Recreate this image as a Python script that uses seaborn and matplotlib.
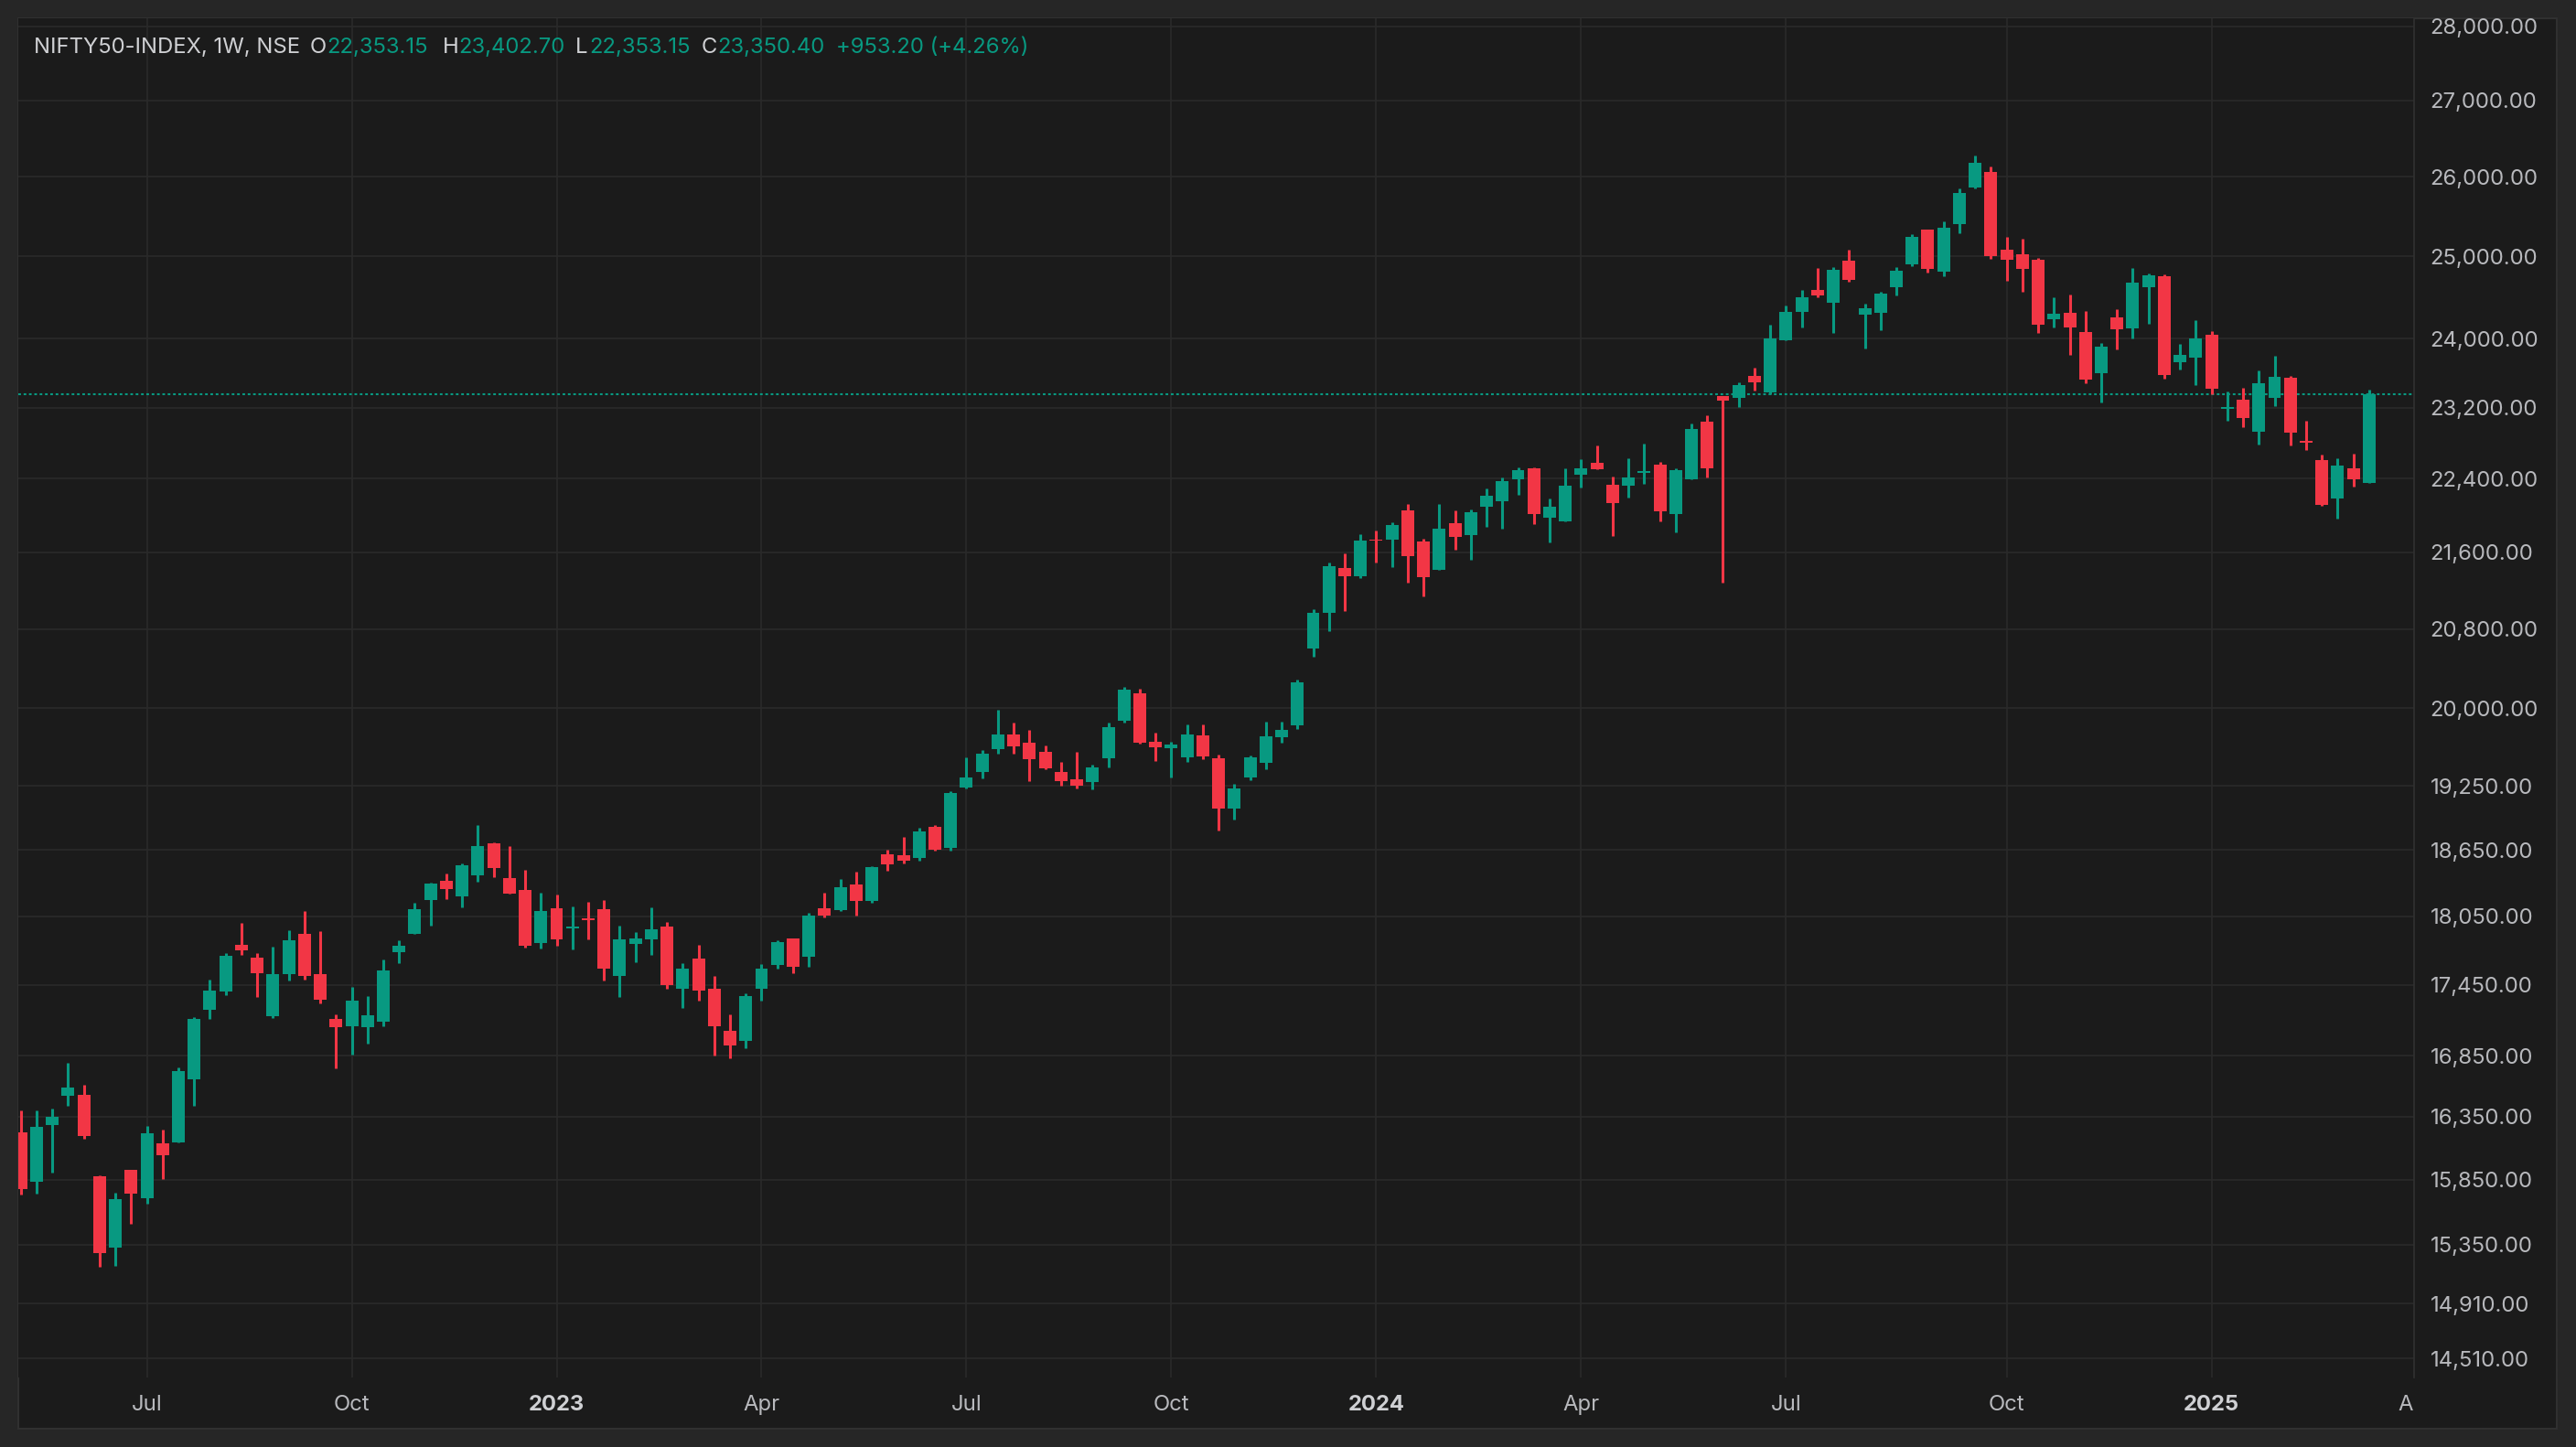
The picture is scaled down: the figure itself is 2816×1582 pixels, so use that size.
import numpy as np
import pandas as pd
import matplotlib
matplotlib.use("Agg")
import matplotlib.pyplot as plt
import seaborn as sns
from matplotlib.ticker import FixedLocator, FuncFormatter, NullLocator
from matplotlib.transforms import Bbox, TransformedBbox, blended_transform_factory

# weekly NIFTY 50 candles, week of 2022-05-09 to week of 2025-03-17
opens = [16224, 15836, 16285, 16522, 16527, 15876, 15329, 15926, 15708, 16136,
         16146, 16657, 17238, 17394, 17796, 17684, 17183, 17544, 17893, 17541,
         17158, 17096, 17091, 17134, 17733, 17897, 18198, 18372, 18231, 18421,
         18715, 18396, 18289, 17816, 18124, 17945, 18035, 18116, 17529, 17808,
         17848, 17962, 17419, 17680, 17417, 17060, 16970, 17417, 17623, 17855,
         17695, 18123, 18107, 18337, 18189, 18612, 18604, 18579, 18866, 18671,
         19236, 19384, 19604, 19746, 19666, 19577, 19384, 19314, 19288, 19516,
         19880, 20151, 19675, 19613, 19524, 19737, 19516, 19037, 19331, 19472,
         19719, 19835, 20596, 20962, 21437, 21350, 21739, 21739, 22055, 21720,
         21418, 21917, 21789, 22095, 22155, 22397, 22518, 21976, 21937, 22447,
         22579, 22336, 22323, 22465, 22556, 22017, 22398, 23040, 23333, 23312,
         23566, 23375, 23984, 24322, 24587, 24432, 24945, 24289, 24311, 24620,
         24900, 25325, 24805, 25394, 25857, 26056, 25075, 25019, 24951, 24230,
         24306, 24077, 23593, 24252, 24121, 24616, 24749, 23721, 23775, 24044,
         23190, 23294, 22929, 23315, 23548, 22826, 22611, 22186, 22519, 22353.15]
highs = [16400, 16400, 16415, 16790, 16609, 15883, 15748, 15926, 16275, 16246,
         16750, 17173, 17494, 17725, 17991, 17725, 17781, 17926, 18096, 17917,
         17197, 17431, 17352, 17668, 17837, 18173, 18355, 18438, 18530, 18884,
         18723, 18689, 18471, 18264, 18248, 18141, 18182, 18198, 17970, 17913,
         18133, 18002, 17640, 17800, 17528, 17199, 17378, 17631, 17839, 17855,
         18082, 18263, 18387, 18453, 18503, 18654, 18772, 18857, 18883, 19201,
         19524, 19595, 19988, 19862, 19790, 19639, 19480, 19577, 19454, 19862,
         20215, 20197, 19764, 19675, 19844, 19844, 19551, 19270, 19542, 19871,
         19871, 20288, 21006, 21495, 21593, 21798, 21838, 21927, 22125, 21749,
         22125, 22055, 22066, 22296, 22417, 22529, 22529, 22185, 22518, 22620,
         22774, 22427, 22628, 22792, 22587, 22516, 23019, 23113, 23333, 23492,
         23662, 24169, 24399, 24587, 24855, 24866, 25080, 24421, 24565, 24866,
         25273, 25325, 25429, 25845, 26269, 26127, 25234, 25211, 24974, 24494,
         24527, 24328, 23947, 24350, 24850, 24783, 24772, 23936, 24219, 24087,
         23389, 23432, 23633, 23805, 23570, 23054, 22672, 22631, 22682, 23402.70]
lows = [15733, 15743, 15907, 16440, 16175, 15185, 15191, 15510, 15665, 15857,
        16146, 16440, 17160, 17363, 17711, 17347, 17168, 17489, 17496, 17292,
        16745, 16858, 16950, 17096, 17637, 17897, 17970, 18206, 18133, 18363,
        18405, 18256, 17776, 17768, 17792, 17760, 17848, 17490, 17348, 17648,
        17712, 17419, 17254, 17317, 16848, 16825, 16909, 17310, 17591, 17552,
        17607, 18042, 18099, 18058, 18172, 18462, 18528, 18554, 18646, 18646,
        19227, 19323, 19560, 19560, 19296, 19410, 19253, 19227, 19218, 19428,
        19862, 19657, 19489, 19331, 19480, 19507, 18832, 18934, 19305, 19410,
        19666, 19799, 20513, 20774, 20981, 21331, 21495, 21447, 21283, 21139,
        21418, 21632, 21524, 21877, 21857, 22225, 21907, 21710, 21937, 22306,
        22508, 21779, 22193, 22347, 21934, 21815, 22398, 22418, 21284, 23207,
        23396, 23354, 23984, 24136, 24499, 24071, 24687, 23887, 24104, 24521,
        24877, 24794, 24749, 25280, 25845, 24962, 24694, 24560, 24066, 24131,
        23807, 23476, 23255, 23872, 24001, 24175, 23529, 23636, 23455, 23350,
        23054, 22981, 22785, 23221, 22775, 22723, 22106, 21967, 22317, 22353.15]
closes = [15776, 16267, 16349, 16587, 16197, 15288, 15698, 15743, 16217, 16044,
          16722, 17158, 17399, 17700, 17751, 17552, 17541, 17837, 17528, 17324,
          17091, 17313, 17189, 17573, 17789, 18116, 18347, 18297, 18513, 18689,
          18488, 18256, 17792, 18100, 17848, 17962, 18019, 17593, 17848, 17856,
          17937, 17450, 17593, 17403, 17093, 16932, 17355, 17591, 17823, 17607,
          18058, 18058, 18312, 18189, 18495, 18520, 18554, 18823, 18654, 19184,
          19331, 19560, 19746, 19630, 19507, 19419, 19296, 19253, 19428, 19817,
          20187, 19666, 19621, 19648, 19746, 19533, 19037, 19227, 19524, 19728,
          19790, 20260, 20968, 21457, 21344, 21730, 21723, 21897, 21563, 21341,
          21857, 21769, 22036, 22215, 22376, 22498, 22016, 22095, 22326, 22518,
          22508, 22135, 22414, 22485, 22047, 22495, 22957, 22519, 23280, 23460,
          23492, 24006, 24322, 24499, 24521, 24833, 24710, 24366, 24543, 24821,
          25239, 24839, 25348, 25787, 26174, 24996, 24951, 24839, 24164, 24296,
          24131, 23519, 23904, 24110, 24671, 24760, 23572, 23807, 24001, 23413,
          23210, 23085, 23484, 23559, 22919, 22806, 22116, 22550, 22397.20, 23350.40]

price_ticks = [14510, 14910, 15350, 15850, 16350, 16850, 17450, 18050, 18650, 19250,
               20000, 20800, 21600, 22400, 23200, 24000, 25000, 26000, 27000, 28000]
symbol = "NIFTY50-INDEX, 1W, NSE"

weeks = pd.date_range("2022-05-09", periods=len(closes), freq="W-MON")
df = pd.DataFrame({"week": weeks, "open": opens, "high": highs, "low": lows, "close": closes})
df["x"] = np.arange(len(df))

BG = "#1b1b1b"
OUTER = "#262626"
BORDER = "#313131"
GRID = "#2a2a2a"
GREEN = "#089981"
RED = "#f23645"
TEXT = "#b8b9bd"
HEAD = "#cfd0d3"

sns.set_theme(style="dark", rc={"axes.facecolor": BG, "figure.facecolor": OUTER,
                                "grid.color": GRID, "text.color": TEXT,
                                "xtick.color": TEXT, "ytick.color": TEXT})
plt.rcParams["font.family"] = ["Inter", "DejaVu Sans"]

W, H = 2816, 1582
fig = plt.figure(figsize=(W / 200, H / 200), dpi=200)
fig.patch.set_facecolor(OUTER)
panel = plt.Rectangle((20 / W, 1 - 1562 / H), 2775 / W, 1542 / H, transform=fig.transFigure,
                      facecolor=BG, edgecolor=BORDER, linewidth=0.7, zorder=-1)
fig.add_artist(panel)

ax = fig.add_axes([20 / W, 1 - 1506 / H, 2619 / W, 1486 / H])
ax.set_facecolor(BG)

# candles
up = df["close"] >= df["open"]
colors = np.where(up, GREEN, RED)
ax.vlines(df["x"], df["low"], df["high"], colors=colors, linewidth=1.1, zorder=2)
ax.bar(df["x"], (df["close"] - df["open"]).abs(), bottom=df[["open", "close"]].min(axis=1),
       width=0.81, color=colors, linewidth=0, zorder=3)

# last price line
ax.axhline(df["close"].iloc[-1], color=GREEN, linewidth=0.75, linestyle=(0, (1.4, 1.4)), zorder=1)

ax.set_yscale("log")
ax.set_ylim(14376, 28113)
ax.set_xlim(-0.157, 151.85)

ax.yaxis.set_major_locator(FixedLocator(price_ticks))
ax.yaxis.set_minor_locator(NullLocator())
ax.yaxis.set_major_formatter(FuncFormatter(lambda v, p: f"{v:,.2f}"))
ax.yaxis.tick_right()
ax.tick_params(axis="y", length=0, pad=6.3, labelsize=8.6, colors=TEXT)

# time axis: first bar of each quarter month
axis_weeks = pd.date_range(weeks[0], periods=160, freq="W-MON")
mon = axis_weeks.month
starts = [i for i in range(1, len(axis_weeks)) if mon[i] != mon[i - 1] and mon[i] in (1, 4, 7, 10)]
ax.xaxis.set_major_locator(FixedLocator(starts))
ax.xaxis.set_minor_locator(NullLocator())
ax.set_xticklabels([])
ax.tick_params(axis="x", length=0)

ax.grid(True, which="major", color=GRID, linewidth=0.6)
for s in ["top", "left", "bottom"]:
    ax.spines[s].set_visible(False)
ax.spines["right"].set_color(BORDER)
ax.spines["right"].set_linewidth(0.6)

clip = TransformedBbox(Bbox([[20 / W, 0], [2639 / W, 1 - 20 / H]]), fig.transFigure)
for lab in ax.yaxis.get_ticklabels():
    lab.set_clip_box(TransformedBbox(Bbox([[2639 / W, 1 - 1562 / H], [2795 / W, 1 - 20 / H]]), fig.transFigure))
    lab.set_clip_on(True)

trans = blended_transform_factory(ax.transData, ax.transAxes)
for i in starts:
    d = axis_weeks[i]
    is_year = d.month == 1
    t = ax.text(i, -30 / 1486, str(d.year) if is_year else d.strftime("%b"), transform=trans,
                ha="center", va="center", fontsize=8.6, color=HEAD if is_year else TEXT,
                fontweight="bold" if is_year else "normal", clip_on=True)
    t.set_clip_box(clip)

# header legend
last = df.iloc[-1]
chg = last["close"] - df["close"].iloc[-2]
pct = chg / df["close"].iloc[-2] * 100
pieces = [(symbol, 37, HEAD), ("O", 339, HEAD), (f"{last['open']:,.2f}", 357, GREEN),
          ("H", 484, HEAD), (f"{last['high']:,.2f}", 501, GREEN),
          ("L", 629, HEAD), (f"{last['low']:,.2f}", 644, GREEN),
          ("C", 767, HEAD), (f"{last['close']:,.2f}", 784, GREEN),
          (f"{chg:+,.2f} ({pct:+.2f}%)", 914, GREEN)]
for txt, px, col in pieces:
    fig.text(px / W, 1 - 52 / H, txt, ha="left", va="center", fontsize=8.6, color=col)

fig.savefig("out.png", dpi=200, facecolor=OUTER)
